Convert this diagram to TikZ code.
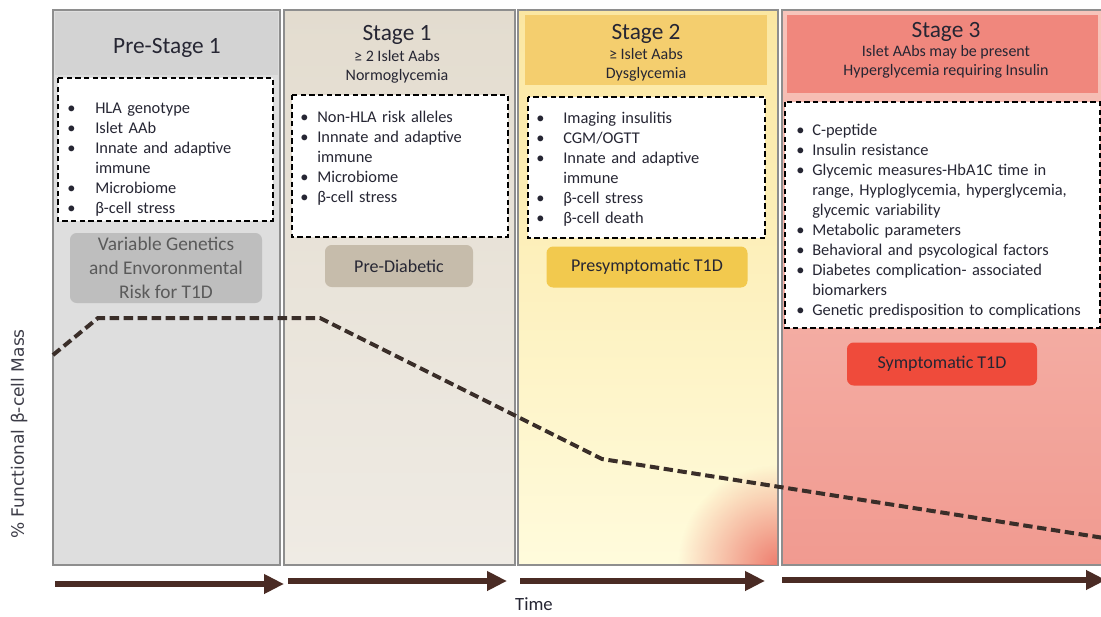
\documentclass[tikz,border=0pt]{standalone}
\usepackage{fontspec}
\setmainfont{Carlito}
\newfontfamily\axisfont{DejaVu Sans}
\usepackage{enumitem}
\usetikzlibrary{arrows.meta,calc,positioning,fadings}

\definecolor{bordergray}{HTML}{8E8E8E}
\definecolor{preBody}{HTML}{DEDEDE}
\definecolor{preHead}{HTML}{D3D3D3}
\definecolor{oneTop}{HTML}{E3DCCF}
\definecolor{oneBot}{HTML}{EFEBE4}
\definecolor{twoHead}{HTML}{F4CE6E}
\definecolor{twoTop}{HTML}{FBE7A2}
\definecolor{twoBot}{HTML}{FFFBDC}
\definecolor{twoCorner}{HTML}{EE7D6E}
\definecolor{threeHead}{HTML}{F0877D}
\definecolor{threeTop}{HTML}{F7C4BB}
\definecolor{threeBot}{HTML}{F19A90}
\definecolor{tagGray}{HTML}{BEBEBE}
\definecolor{tagGrayText}{HTML}{5A5A5A}
\definecolor{tagTaupe}{HTML}{C6BCAB}
\definecolor{tagGold}{HTML}{F2C94E}
\definecolor{tagRed}{HTML}{EF4B3B}
\definecolor{inkdark}{HTML}{262633}
\definecolor{arrowbrown}{HTML}{4A2B24}
\definecolor{curvebrown}{HTML}{3A2E29}

\tikzfading[name=cornerfade, inner color=transparent!0, outer color=transparent!100]

\tikzstyle{stagecol} = [draw=bordergray, line width=1.2pt]
\tikzstyle{dbox} = [draw=black, fill=white, line width=0.9pt, dash pattern=on 4pt off 2.5pt]
\tikzstyle{items} = [anchor=north west, inner sep=0pt, align=left, text=inkdark, font=\fontsize{12.3}{15}\selectfont]
\tikzstyle{hd} = [inner sep=0pt, text=inkdark, font=\fontsize{17.5}{20}\selectfont]
\tikzstyle{sub} = [inner sep=0pt, align=center, text=inkdark, font=\fontsize{12}{14.5}\selectfont]
\tikzstyle{tag} = [rounded corners=5pt, align=center, inner sep=0pt, text=inkdark, font=\fontsize{13.5}{18}\selectfont]
\tikzstyle{timearrow} = [arrowbrown, line width=5pt, -{Triangle[length=15pt, width=14pt]}]
\tikzstyle{decline} = [curvebrown, line width=3pt, dash pattern=on 7pt off 3.5pt]

\newcommand{\bulletlist}[2]{\begin{itemize}[nosep, label=\textbullet, labelindent=0pt, labelwidth=4pt, labelsep=*, align=left, leftmargin=#1]#2\end{itemize}}

\begin{document}
\begin{tikzpicture}[x=0.75pt, y=-0.75pt]
\useasboundingbox (0,0) rectangle (1101,617);
\fill[white] (0,0) rectangle (1101,617);

% stage columns
\path[stagecol, fill=preBody] (53,10) rectangle (280,565);
\fill[preHead] (55,12) rectangle (278,75);
\shade[stagecol, top color=oneTop, bottom color=oneBot] (284,10) rectangle (515,565);
\shade[stagecol, top color=twoTop, bottom color=twoBot] (518,10) rectangle (778,565);
\begin{scope}
\clip (519,11) rectangle (777,564);
\fill[twoCorner, path fading=cornerfade] (778,565) circle (75pt);
\end{scope}
\fill[twoHead] (525,15) rectangle (767,85);
\shade[stagecol, top color=threeTop, bottom color=threeBot] (782,10) rectangle (1106,565);
\fill[threeHead] (787,15) rectangle (1098,93);

% headers
\node[hd] (pre) at (167,48) {Pre-Stage 1};
\node[hd] (st1) at (397,35) {Stage 1};
\node[sub] (st1sub) at (397,67) {≥ 2 Islet Aabs\\Normoglycemia};
\node[hd] (st2) at (646,34) {Stage 2};
\node[sub] (st2sub) at (646,65) {≥ Islet Aabs\\Dysglycemia};
\node[hd] (st3) at (946,32) {Stage 3};
\node[sub] (st3sub) at (946,62) {Islet AAbs may be present\\Hyperglycemia requiring Insulin};

% marker lists
\draw[dbox] (58,78) rectangle (273,221);
\node[items, text width=200pt] (prelist) at (67,93) {\bulletlist{21pt}{
  \item HLA genotype
  \item Islet AAb
  \item Innate and adaptive\newline immune
  \item Microbiome
  \item β-cell stress}};

\draw[dbox] (292,95) rectangle (508,237);
\node[items, text width=200pt] (st1list) at (300,102) {\bulletlist{12.75pt}{
  \item Non-HLA risk alleles
  \item Innnate and adaptive\newline immune
  \item Microbiome
  \item β-cell stress}};

\draw[dbox] (528,97) rectangle (765,238);
\node[items, text width=200pt] (st2list) at (536,103) {\bulletlist{20.25pt}{
  \item Imaging insulitis
  \item CGM/OGTT
  \item Innate and adaptive\newline immune
  \item β-cell stress
  \item β-cell death}};

\draw[dbox] (785,102) rectangle (1100,328);
\node[items, text width=240pt] (st3list) at (796,115) {\bulletlist{12pt}{
  \item C-peptide
  \item Insulin resistance
  \item Glycemic measures-HbA1C time in\newline range, Hyploglycemia, hyperglycemia,\newline glycemic variability
  \item Metabolic parameters
  \item Behavioral and psycological factors
  \item Diabetes complication- associated\newline biomarkers
  \item Genetic predisposition to complications}};

% stage tags
\node[tag, fill=tagGray, text=tagGrayText, minimum width=144pt, minimum height=52.5pt,
  font=\fontsize{14.5}{18}\selectfont] (pretag) at (166,268) {Variable Genetics\\and Envoronmental\\Risk for T1D};
\node[tag, fill=tagTaupe, minimum width=111pt, minimum height=31.5pt] (st1tag) at (399,266) {Pre-Diabetic};
\node[tag, fill=tagGold, minimum width=150.75pt, minimum height=30.75pt] (st2tag) at (647,267) {Presymptomatic T1D};
\node[tag, fill=tagRed, minimum width=142.5pt, minimum height=32.25pt] (st3tag) at (942,364) {Symptomatic T1D};

% beta-cell mass curve
\coordinate (m0) at (53,355);
\coordinate (m1) at (98,318);
\coordinate (m2) at (320,318);
\coordinate (m3) at (602,459);
\coordinate (m4) at (1104,538);
\draw[decline] (m0) -- (m1) -- (m2) -- (m3) -- (m4);

% time arrows
\coordinate (t0s) at (55,584);
\coordinate (t0e) at (284,584);
\coordinate (t1s) at (288,581);
\coordinate (t1e) at (507,581);
\coordinate (t2s) at (520,581);
\coordinate (t2e) at (765,581);
\coordinate (t3s) at (782,580);
\coordinate (t3e) at (1106,580);
\draw[timearrow] (t0s) -- (t0e);
\draw[timearrow] (t1s) -- (t1e);
\draw[timearrow] (t2s) -- (t2e);
\draw[timearrow] (t3s) -- (t3e);

% axis labels
\node[text=inkdark, font=\fontsize{14}{16}\selectfont] (timelab) at (534,604) {Time};
\node[rotate=90, text=inkdark!90, font=\axisfont\fontsize{12.8}{15}\selectfont] (masslab) at (19,434) {\% Functional β-cell Mass};
\end{tikzpicture}
\end{document}
